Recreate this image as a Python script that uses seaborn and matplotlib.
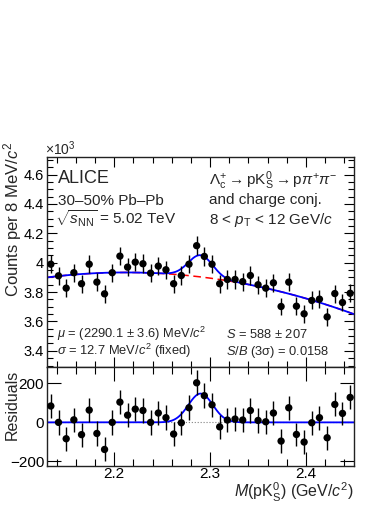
import numpy as np
import pandas as pd
import matplotlib
matplotlib.use("Agg")
import matplotlib.pyplot as plt
import seaborn as sns
from matplotlib.ticker import MultipleLocator

# invariant-mass bins (8 MeV), bin centres in GeV/c^2
mass = [2.134 + 0.008 * i for i in range(40)]

# counts per bin
counts = [3990, 3911, 3827, 3932, 3857, 3990, 3868, 3788, 3932, 4045,
          3970, 4004, 3993, 3929, 3977, 3952, 3857, 3913, 3990, 4116,
          4043, 3990, 3857, 3886, 3886, 3871, 3913, 3850, 3827, 3863,
          3702, 3868, 3704, 3652, 3743, 3752, 3631, 3790, 3729, 3792]

# residuals w.r.t. background
resid = [84, 0, -84, 13, -63, 63, -57, -139, 0, 104,
         37, 68, 61, 0, 48, 24, -60, -2, 75, 203,
         137, 90, -23, 12, 17, 12, 61, 10, 3, 48,
         -96, 75, -62, -101, -2, 24, -79, 92, 46, 128]

# fit parameters shown on the plot
mu = 2.2901
sigma = 0.0127
S = 588
bin_w = 0.008

df = pd.DataFrame({"mass": mass, "counts": counts, "resid": resid})
df["err"] = np.sqrt(df["counts"])

# background: 2nd order polynomial through data - residual
bkg_pars = np.polyfit(df["mass"], df["counts"] - df["resid"], 2)
xs = np.linspace(2.13, 2.45, 500)
bkg = np.polyval(bkg_pars, xs)
sig = S * bin_w / (np.sqrt(2 * np.pi) * sigma) * np.exp(-0.5 * ((xs - mu) / sigma) ** 2)
curves = pd.DataFrame({"x": xs, "bkg": bkg / 1000, "tot": (bkg + sig) / 1000, "sig": sig})

sns.set_theme(style="ticks")
plt.rcParams["font.family"] = ["Liberation Sans", "DejaVu Sans"]
plt.rcParams["mathtext.fontset"] = "custom"
plt.rcParams["mathtext.rm"] = "Liberation Sans"
plt.rcParams["mathtext.it"] = "Liberation Sans:italic"
plt.rcParams["mathtext.bf"] = "Liberation Sans:bold"

fig = plt.figure(figsize=(3.9, 5.05), dpi=100)
ax1 = fig.add_axes([0.1205, 0.2733, 0.7872, 0.4158])
ax2 = fig.add_axes([0.1205, 0.0772, 0.7872, 0.196])

# top panel
sns.lineplot(data=curves, x="x", y="bkg", ax=ax1, color="red", lw=1.1,
             linestyle=(0, (5, 3)))
sns.lineplot(data=curves, x="x", y="tot", ax=ax1, color="blue", lw=1.3)
ax1.errorbar(df["mass"], df["counts"] / 1000, yerr=df["err"] / 1000, fmt="none",
             ecolor="black", elinewidth=1, capsize=0)
sns.scatterplot(x=df["mass"], y=df["counts"] / 1000, ax=ax1, color="black",
                s=28, edgecolor="none", zorder=5)

# residual panel
ax2.axhline(0, color="gray", lw=0.8, linestyle=":")
sns.lineplot(data=curves, x="x", y="sig", ax=ax2, color="blue", lw=1.3)
ax2.errorbar(df["mass"], df["resid"], yerr=df["err"], fmt="none",
             ecolor="black", elinewidth=1, capsize=0)
sns.scatterplot(data=df, x="mass", y="resid", ax=ax2, color="black",
                s=28, edgecolor="none", zorder=5)

for ax in (ax1, ax2):
    ax.set_xlim(2.13, 2.45)
    ax.xaxis.set_major_locator(MultipleLocator(0.1))
    ax.xaxis.set_minor_locator(MultipleLocator(0.02))
    ax.tick_params(which="both", direction="in", top=True, right=True,
                   colors="black", width=0.8, pad=2)
    for sp in ax.spines.values():
        sp.set_linewidth(1.0)
        sp.set_color("#222222")
    ax.set_xlabel("")
    ax.set_ylabel("")

ax1.set_ylim(3.29, 4.72)
ax1.yaxis.set_major_locator(MultipleLocator(0.2))
ax1.yaxis.set_minor_locator(MultipleLocator(0.05))
ax1.set_yticks([3.4, 3.6, 3.8, 4.0, 4.2, 4.4, 4.6])
ax1.set_yticklabels(["3.4", "3.6", "3.8", "4", "4.2", "4.4", "4.6"])
ax1.tick_params(which="major", length=7, labelsize=10.5)
ax1.tick_params(which="minor", length=4)
ax1.tick_params(axis="x", labelbottom=False)

ax2.set_ylim(-224, 284)
ax2.set_yticks([-200, 0, 200])
ax2.set_yticklabels(["\u2212200", "0", "200"])
ax2.tick_params(which="major", length=10, labelsize=11)
ax2.tick_params(which="minor", length=5)
ax2.tick_params(axis="y", which="minor", length=0)
ax2.set_xticks([2.2, 2.3, 2.4])
ax2.set_xticklabels(["2.2", "2.3", "2.4"])
ax2.tick_params(axis="x", pad=1)

# labels
fig.text(0.031, 1 - 141 / 505, r"Counts per 8 MeV/$c^{2}$", rotation=90,
         ha="center", va="top", fontsize=12)
fig.text(0.031, 1 - 405 / 505, "Residuals", rotation=90,
         ha="center", va="center", fontsize=11.5)
fig.text(354 / 390, 1 - 497 / 505, r"$M$(pK$^{0}_{\rm S}$) (GeV/$c^{2}$)",
         ha="right", va="baseline", fontsize=11.5)
fig.text(45 / 390, 1 - 155 / 505, r"$\times$10$^{3}$", ha="left",
         va="baseline", fontsize=10)

def ftext(x, y, s, size, **kw):
    fig.text(x / 390, 1 - y / 505, s, ha="left", va="baseline", fontsize=size, **kw)

ftext(58, 183, "ALICE", 13)
ftext(58, 205, "30\u201350% Pb\u2013Pb", 11)
ftext(55, 224, r"$\sqrt{s_{\rm NN}}$ = 5.02 TeV", 11)
ftext(209, 185, r"$\Lambda_{\rm c}^{+}\rightarrow{\rm pK}^{0}_{\rm S}\rightarrow{\rm p}\pi^{+}\pi^{-}$", 11)
ftext(209, 204, "and charge conj.", 11)
ftext(209, 224, r"8 < $p_{\rm T}$ < 12 GeV/$c$", 11)
ftext(57, 338, r"$\mu$ = (2290.1 $\pm$ 3.6) MeV/$c^{2}$", 9.3)
ftext(57, 355, r"$\sigma$ = 12.7 MeV/$c^{2}$ (fixed)", 9.3)
ftext(226, 338, r"$S$ = 588 $\pm$ 207", 9.3)
ftext(226, 355, r"$S/B$ (3" + "\u03c3" + ") = 0.0158", 9.3)

fig.savefig("out.png", dpi=100)
